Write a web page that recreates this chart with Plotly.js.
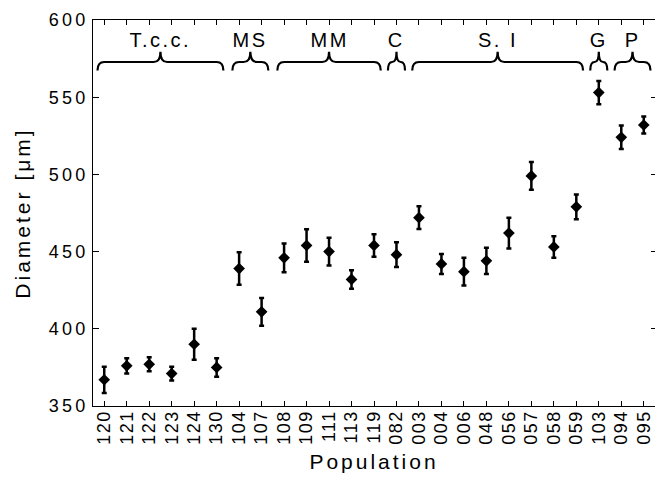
<!DOCTYPE html>
<html>
<head>
<meta charset="utf-8">
<script src="https://cdn.plot.ly/plotly-3.0.1.min.js"></script>
<style>
  html, body { margin: 0; padding: 0; background: #fff; }
  #chart { width: 660px; height: 484px; }
  .xtick text { letter-spacing: 1.5px; }
  .ytick text { letter-spacing: 3.2px; }
  .g-xtitle text, .g-ytitle text { letter-spacing: 3px; }
  .annotation-text-g text { letter-spacing: 2.5px; }
</style>
</head>
<body>
<div id="chart"></div>
<script>
// ---- data ----
const categories = ['120','121','122','123','124','130','104','107','108','109','111','113','119','082','003','004','006','048','056','057','058','059','103','094','095'];
const diameters  = [367, 376, 377, 371, 390, 375, 439, 411, 446, 454, 450, 432, 454, 448, 472, 442, 437, 444, 462, 499, 453, 479, 553, 524, 532];
const errors     = [8.5, 5, 4.5, 4.5, 10, 6, 10.5, 9, 9.3, 10.5, 9, 6, 7.3, 8, 7.3, 6.5, 9, 8.5, 10, 9, 7, 8, 7.5, 7.6, 5.5];

const groupNames = ['T.c.c.', 'MS', 'MM', 'C', 'S. I', 'G', 'P'];
const groupStart = [0, 6, 8, 13, 14, 22, 23];
const groupEnd   = [5, 7, 12, 13, 21, 22, 24];

// ---- build ----
const xIdx = categories.map((c, i) => i);
const FONT = 'Liberation Sans, Arial, Helvetica, sans-serif';

const traces = [
  {
    x: xIdx, y: diameters, type: 'scatter', mode: 'markers',
    marker: { symbol: 'diamond', size: 9, color: '#000' },
    error_y: { type: 'data', array: errors, visible: true, color: '#000', thickness: 2.5, width: 2.5 },
    hoverinfo: 'skip', showlegend: false
  },
  {
    x: [xIdx[0]], y: [diameters[0]], yaxis: 'y2', type: 'scatter', mode: 'markers',
    marker: { opacity: 0 }, hoverinfo: 'skip', showlegend: false
  }
];

// braces
const yEnd = 567.3, yLine = 572.8, yTip = 579.5, yLabel = 587;
const shapes = [];
const annotations = [];
groupNames.forEach((name, k) => {
  const pad = groupStart[k] === groupEnd[k] ? 0.38 : 0.3;
  const a = groupStart[k] - pad, b = groupEnd[k] + pad, m = (groupStart[k] + groupEnd[k]) / 2;
  const d = Math.min(0.3, (b - a) / 4);
  const path = `M ${a},${yEnd} Q ${a},${yLine} ${a + d},${yLine} L ${m - d},${yLine} Q ${m},${yLine} ${m},${yTip} ` +
               `Q ${m},${yLine} ${m + d},${yLine} L ${b - d},${yLine} Q ${b},${yLine} ${b},${yEnd}`;
  shapes.push({ type: 'path', xref: 'x', yref: 'y', path: path, line: { color: '#000', width: 2.2 } });
  annotations.push({
    x: m, y: yLabel, xref: 'x', yref: 'y', text: name, showarrow: false,
    xanchor: 'center', yanchor: 'middle', font: { family: FONT, size: 20, color: '#000' }
  });
});

const layout = {
  width: 660, height: 484,
  margin: { l: 93, r: 5, t: 20, b: 78 },
  paper_bgcolor: '#fff', plot_bgcolor: '#fff',
  font: { family: FONT, color: '#000' },
  showlegend: false,
  xaxis: {
    range: [-0.5, 24.5], tickmode: 'array', tickvals: xIdx, ticktext: categories,
    tickangle: -90, ticks: 'inside', ticklen: 5, tickcolor: '#000', tickwidth: 1,
    showline: true, linecolor: '#000', linewidth: 1, mirror: 'ticks',
    showgrid: false, zeroline: false, ticklabelstandoff: -4,
    tickfont: { family: FONT, size: 18, color: '#000' },
    title: { text: 'Population', font: { family: FONT, size: 21, color: '#000' }, standoff: 10 },
    automargin: false
  },
  yaxis: {
    range: [350, 600], tickmode: 'linear', tick0: 350, dtick: 50,
    ticks: 'inside', ticklen: 6, tickcolor: '#000', tickwidth: 1,
    showline: true, linecolor: '#000', linewidth: 1, mirror: false,
    showgrid: false, zeroline: false,
    tickfont: { family: FONT, size: 18, color: '#000' },
    title: { text: 'Diameter [μm]', font: { family: FONT, size: 21, color: '#000' }, standoff: 12 },
    automargin: false
  },
  yaxis2: {
    overlaying: 'y', side: 'right', range: [350, 600],
    tickmode: 'array', tickvals: [400, 450, 500, 550],
    ticks: 'inside', ticklen: 4, tickcolor: '#000', tickwidth: 1,
    showline: false, showticklabels: false, showgrid: false, zeroline: false
  },
  shapes: shapes,
  annotations: annotations
};

Plotly.newPlot('chart', traces, layout, { staticPlot: true, displayModeBar: false });
</script>
</body>
</html>
